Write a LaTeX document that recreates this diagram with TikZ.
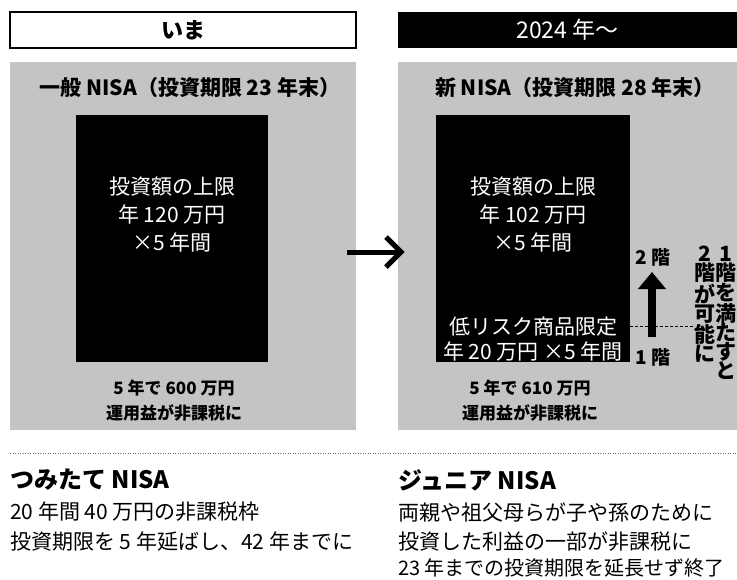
\documentclass[tikz,border=0pt]{standalone}
\usepackage{fontspec}
\setmainfont{Noto Sans CJK JP}
\usetikzlibrary{arrows.meta}
\definecolor{panelgray}{RGB}{196,196,196}
\definecolor{dotgray}{RGB}{110,110,110}
\begin{document}
\begin{tikzpicture}[x=1pt,y=-1pt,
  hdrbox/.style={minimum height=36pt, inner sep=0pt, outer sep=0pt},
  panel/.style={fill=panelgray, draw=none, inner sep=0pt, outer sep=0pt, anchor=north west},
  blackbox/.style={fill=black, draw=none, inner sep=0pt, outer sep=0pt, anchor=north west},
  ttl/.style={font=\fontsize{21}{25}\selectfont\bfseries},
  boxtxt/.style={text=white, align=center, font=\fontsize{21}{28}\selectfont},
  boxtxtb/.style={text=white, align=center, font=\fontsize{21}{25}\selectfont},
  note/.style={align=center, font=\fontsize{17}{25}\selectfont\bfseries},
  floorlbl/.style={font=\fontsize{19}{22}\selectfont\bfseries, inner sep=1pt},
  vert/.style={align=center, font=\fontsize{21}{19.2}\selectfont\bfseries, anchor=north, inner sep=0pt},
  head/.style={anchor=west, font=\fontsize{24}{28}\selectfont\bfseries, inner sep=0pt},
  body/.style={anchor=west, font=\fontsize{21}{25}\selectfont, inner sep=0pt},
]
\useasboundingbox (0,0) rectangle (737,579);

% headers
\node[hdrbox, draw=black, line width=1.2pt, minimum width=346pt,
      font=\fontsize{22}{26}\selectfont\bfseries] (hl) at (183,30) {いま};
\node[hdrbox, fill=black, text=white, minimum width=339pt,
      font=\fontsize{23}{26}\selectfont] (hr) at (567.5,30) {2024 年～};

% gray panels
\node[panel, minimum width=346pt, minimum height=368pt] (lp) at (10,62) {};
\node[panel, minimum width=339pt, minimum height=368pt] (rp) at (398,62) {};

% titles
\node[ttl] (lt) at (190,88) {一般 NISA（投資期限 23 年末）};
\node[ttl] (rt) at (575,88) {新 NISA（投資期限 28 年末）};

% black boxes
\node[blackbox, minimum width=192pt, minimum height=247pt] (lb) at (76,115) {};
\node[blackbox, minimum width=194pt, minimum height=247pt] (rb) at (436,115) {};

\node[boxtxt] (ltx) at (172,215) {投資額の上限\\年 120 万円\\×5 年間};
\node[boxtxt] (rtx) at (533,215) {投資額の上限\\年 102 万円\\×5 年間};
\node[boxtxtb] (rlow) at (533,339.5) {低リスク商品限定\\年 20 万円 ×5 年間};

% notes under boxes
\node[note] (ln) at (174,401) {5 年で 600 万円\\運用益が非課税に};
\node[note] (rn) at (530,401) {5 年で 610 万円\\運用益が非課税に};

% big right arrow
\coordinate (ha1) at (347,252);
\coordinate (ha2) at (401,252);
\coordinate (hb1) at (386,237);
\coordinate (hb2) at (386,267);
\draw[line width=5pt] (ha1) -- (ha2);
\draw[line width=5pt, line join=miter] (hb1) -- (ha2) -- (hb2);

% floors
\node[floorlbl] (f2) at (653,257) {2 階};
\node[floorlbl] (f1) at (653,357) {1 階};
\coordinate (ua1) at (652,337);
\coordinate (ua2) at (652,272);
\draw[line width=8pt, -{Triangle[width=27pt,length=17pt]}] (ua1) -- (ua2);

% dashed line
\coordinate (dl2) at (695,326);
\draw[line width=1pt, dash pattern=on 3pt off 2pt] (rb.east |- dl2) -- (dl2);

% vertical texts
\node[vert] (v1) at (726,246) {1\\階\\を\\満\\た\\す\\と};
\node[vert] (v2) at (705,246) {2\\階\\が\\可\\能\\に};

% dotted separator
\coordinate (sepL) at (10,453);
\coordinate (sepR) at (737,453);
\draw[dotgray, line width=1pt, dash pattern=on 1pt off 1.5pt] (sepL) -- (sepR);

% bottom texts
\node[head] (th) at (10,480) {つみたて NISA};
\node[body] (t1) at (10,512) {20 年間 40 万円の非課税枠};
\node[body] (t2) at (10,542) {投資期限を 5 年延ばし、42 年までに};

\node[head] (jh) at (398,480) {ジュニア NISA};
\node[body] (j1) at (398,512) {両親や祖父母らが子や孫のために};
\node[body] (j2) at (398,542) {投資した利益の一部が非課税に};
\node[body, font=\fontsize{20}{24}\selectfont] (j3) at (398,568) {23 年までの投資期限を延長せず終了};
\end{tikzpicture}
\end{document}
